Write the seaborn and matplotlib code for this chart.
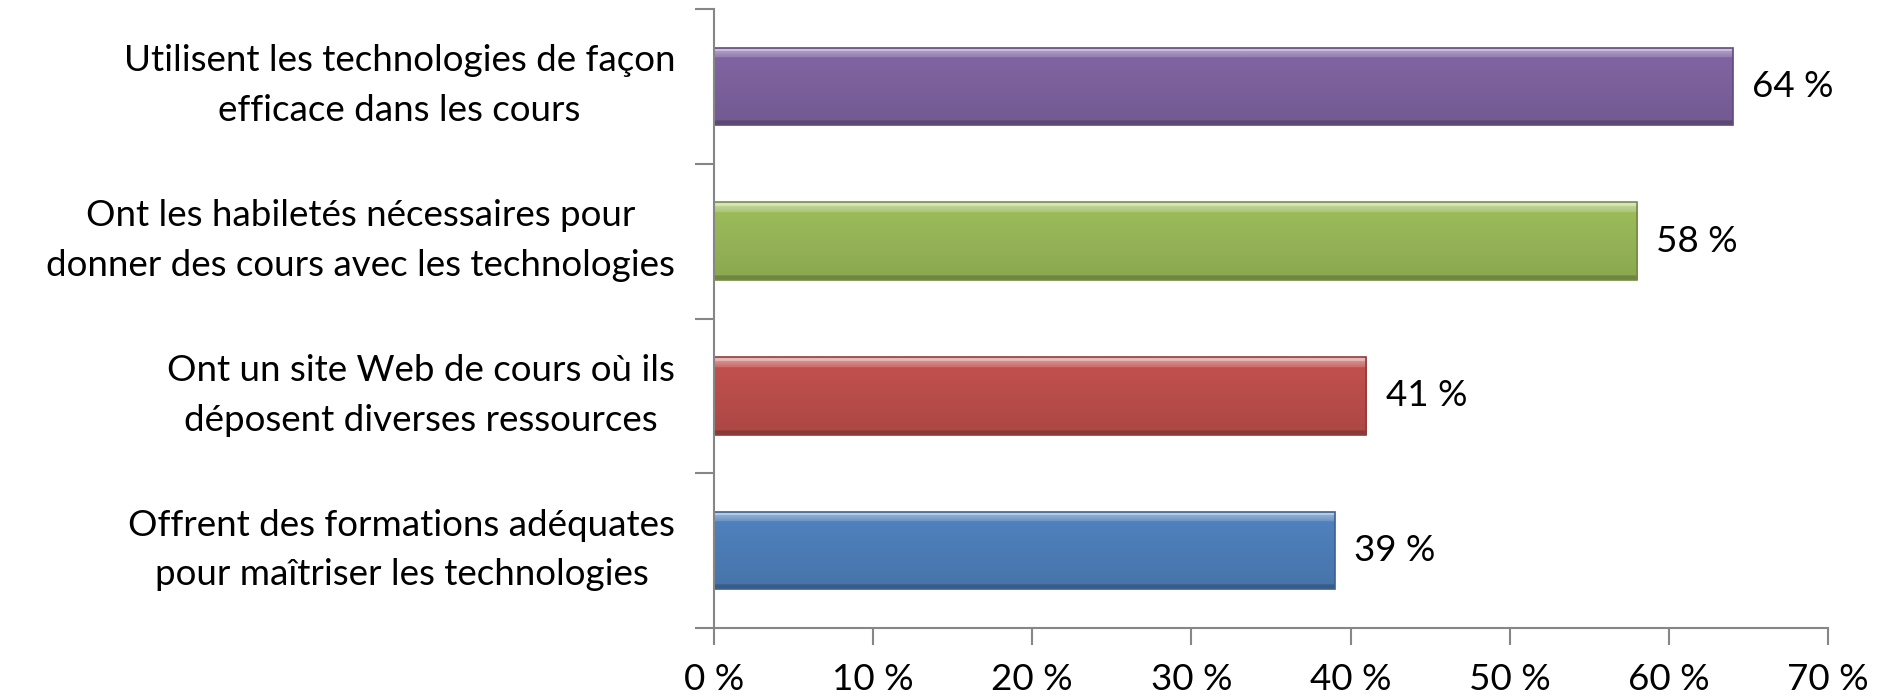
import numpy as np
import pandas as pd
import matplotlib
matplotlib.use("Agg")
import matplotlib.pyplot as plt
import matplotlib.colors as mcolors
import matplotlib.transforms as mtransforms
from matplotlib.ticker import FixedLocator, FuncFormatter
import seaborn as sns

categories = [
    "Utilisent les technologies de façon\nefficace dans les cours",
    "Ont les habiletés nécessaires pour\ndonner des cours avec les technologies",
    "Ont un site Web de cours où ils\ndéposent diverses ressources",
    "Offrent des formations adéquates\npour maîtriser les technologies",
]
values = [64, 58, 41, 39]
bar_colors = ["#8064A2", "#9BBB59", "#C0504D", "#4F81BD"]
x_ticks = [0, 10, 20, 30, 40, 50, 60, 70]

sns.set_theme(style="white")
plt.rcParams["font.family"] = ["Lato", "DejaVu Sans"]

df = pd.DataFrame({"cat": categories, "val": values})

fig = plt.figure(figsize=(18.9, 6.99), dpi=100)
ax = fig.add_axes([714 / 1890, 1 - 628 / 699, (1828 - 714) / 1890, (628 - 9) / 699])

sns.barplot(data=df, y="cat", x="val", hue="cat", palette=bar_colors,
            width=0.5, legend=False, ax=ax, orient="h", saturation=1,
            edgecolor="none")


def mix(c, other, t):
    c = np.array(mcolors.to_rgb(c))
    o = np.array(mcolors.to_rgb(other))
    return c * (1 - t) + o * t


# gradient shading on bars
for patch, col in zip(ax.patches, bar_colors):
    x0, y0 = patch.get_x(), patch.get_y()
    w, h = patch.get_width(), patch.get_height()
    n = 100
    rows = []
    for i in range(n):
        f = i / (n - 1)
        if f < 0.05:
            c = mix(col, "white", 0.6)
        elif f < 0.13:
            c = mix(col, "white", 0.35 - (f - 0.05) * 2.5)
        elif f < 0.94:
            c = mix(col, "black", (f - 0.13) * 0.12)
        else:
            c = mix(col, "black", 0.28)
        rows.append(c)
    grad = np.array(rows).reshape(n, 1, 3)
    im = ax.imshow(grad, extent=(x0, x0 + w, y0 + h, y0), origin="upper",
                   aspect="auto", zorder=patch.get_zorder() + 0.1,
                   interpolation="bilinear")
    im.set_clip_path(patch)
    ax.add_patch(plt.Rectangle((x0, y0), w, h, fill=False,
                               edgecolor=mix(col, "black", 0.25), lw=1.2,
                               zorder=patch.get_zorder() + 0.2))

ax.set_xlim(0, 70)
ax.set_ylim(len(categories) - 0.5, -0.5)

for i, v in enumerate(values):
    ax.text(v + 1.2, i, f"{v} %", va="center", ha="left", fontsize=26.5,
            color="black")

ax.set_xticks(x_ticks)
ax.xaxis.set_major_formatter(FuncFormatter(lambda v, p: f"{int(v)} %"))
ax.tick_params(axis="x", direction="out", length=12, width=1.5,
               color="#868686", labelsize=26.5, pad=13, labelcolor="black",
               bottom=True)

ax.set_yticks(range(len(categories)))
ax.set_yticklabels(categories, multialignment="center", linespacing=1.62)
ax.yaxis.set_minor_locator(FixedLocator([-0.5, 0.5, 1.5, 2.5, 3.5]))
ax.tick_params(axis="y", which="major", length=0, pad=28, labelsize=26.5,
               labelcolor="black")
ax.tick_params(axis="y", which="minor", length=14, width=1.5,
               color="#868686", direction="out", left=True)

shift = mtransforms.ScaledTranslation(0, 12 / 100, fig.dpi_scale_trans)
for lab in ax.get_yticklabels():
    lab.set_transform(lab.get_transform() + shift)

ax.set_xlabel("")
ax.set_ylabel("")
for s in ["top", "right"]:
    ax.spines[s].set_visible(False)
for s in ["left", "bottom"]:
    ax.spines[s].set_color("#868686")
    ax.spines[s].set_linewidth(1.5)
ax.grid(False)

fig.savefig("out.png", dpi=100, facecolor="white")
